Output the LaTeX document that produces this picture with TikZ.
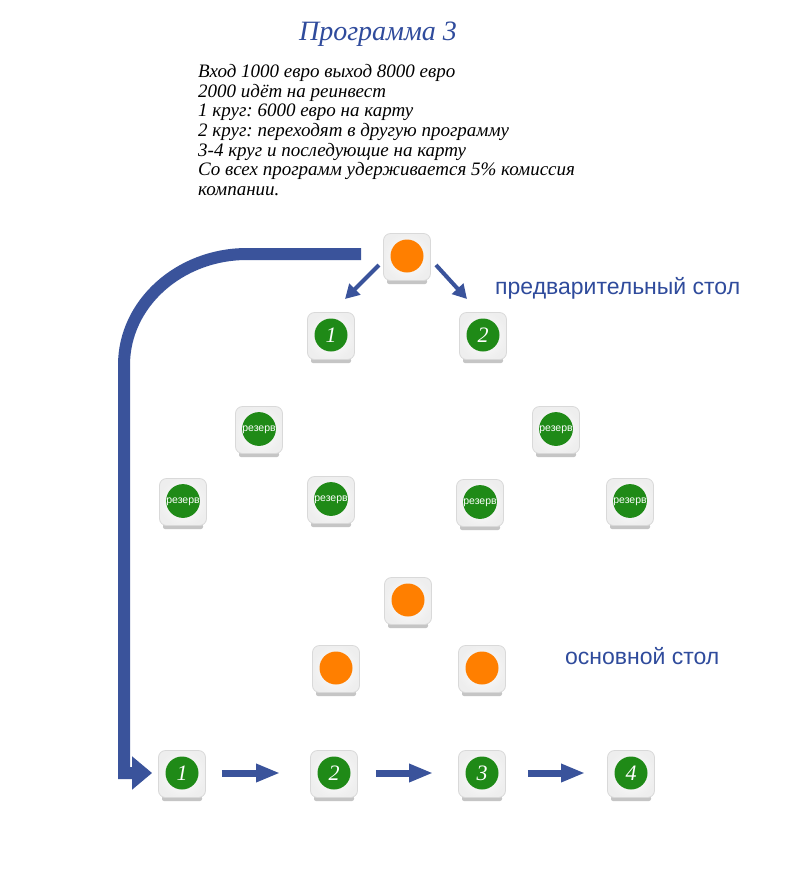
\documentclass[tikz,border=0pt]{standalone}
\usepackage{fontspec}
\setmainfont{Liberation Serif}
\newfontfamily\lsans{Liberation Sans}
\usetikzlibrary{arrows.meta,calc}
\frenchspacing
\definecolor{arrblue}{HTML}{3A539B}
\definecolor{txtblue}{HTML}{2F4B9C}
\definecolor{dgreen}{HTML}{1F8A17}
\definecolor{dorange}{HTML}{FF7F00}
\tikzset{
  tilebox/.style={draw=gray!30, line width=0.8pt, rounded corners=7pt, minimum width=47pt, minimum height=47pt,
    inner color=white, outer color=gray!13, inner sep=0pt},
  disc/.style={circle, fill=#1, minimum size=33pt, inner sep=0pt, text=white},
  numtxt/.style={font=\itshape\fontsize{22}{22}\selectfont},
  rezerv/.style={font=\lsans\fontsize{10.5}{10.5}\selectfont, text height=5.6pt, text depth=0pt},
  smallarr/.style={draw=arrblue, line width=4pt, -{Triangle[length=14pt,width=15pt]}},
  botarr/.style={draw=arrblue, line width=7pt, -{Triangle[length=24pt,width=17pt]}},
  bigarr/.style={draw=arrblue, line width=12pt, miter limit=10, -{Triangle[length=20pt,width=32pt]}},
}
\newcommand\mytile[5]{%
  \fill[gray!75, opacity=0.6, rounded corners=2pt] ($(#2)+(-20,22)$) rectangle ($(#2)+(20,27)$);
  \node[tilebox] (#1) at (#2) {};
  \node[disc=#3, #4] (#1c) at ($(#1)+(0,-1)$) {#5};
}
\begin{document}
\begin{tikzpicture}[x=1pt,y=-1pt]
\useasboundingbox (0,0) rectangle (800,887);
\fill[white] (0,0) rectangle (800,887);
% title and text
\node[font=\itshape\fontsize{28}{28}\selectfont, text=txtblue, anchor=base] (title) at (378,40) {Программа 3};
\node[font=\itshape\fontsize{19}{19.7}\selectfont, anchor=north west, align=left, inner sep=0pt] (desc) at (198,64) {Вход 1000 евро выход 8000 евро\\
2000 идёт на реинвест\\
1 круг: 6000 евро на карту\\
2 круг: переходят в другую программу\\
3-4 круг и последующие на карту\\
Со всех программ удерживается 5\% комиссия\\
компании.};
\node[font=\lsans\fontsize{23}{23}\selectfont, text=txtblue, anchor=base west, inner sep=0pt] (lab1) at (495,294) {предварительный стол};
\node[font=\lsans\fontsize{23}{23}\selectfont, text=txtblue, anchor=base west, inner sep=0pt] (lab2) at (565,664) {основной стол};
% tiles
\mytile{top}{407,257}{dorange}{}{}
\mytile{t1}{331,336}{dgreen}{numtxt}{1}
\mytile{t2}{483,336}{dgreen}{numtxt}{2}
\mytile{r1}{259,430}{dgreen}{rezerv}{резерв}
\mytile{r2}{556,430}{dgreen}{rezerv}{резерв}
\mytile{r3}{183,502}{dgreen}{rezerv}{резерв}
\mytile{r4}{331,500}{dgreen}{rezerv}{резерв}
\mytile{r5}{480,503}{dgreen}{rezerv}{резерв}
\mytile{r6}{630,502}{dgreen}{rezerv}{резерв}
\mytile{o1}{408,601}{dorange}{}{}
\mytile{o2}{336,669}{dorange}{}{}
\mytile{o3}{482,669}{dorange}{}{}
\mytile{b1}{182,774}{dgreen}{numtxt}{1}
\mytile{b2}{334,774}{dgreen}{numtxt}{2}
\mytile{b3}{482,774}{dgreen}{numtxt}{3}
\mytile{b4}{631,774}{dgreen}{numtxt}{4}
% arrows
\coordinate (a1s) at (379,265); \coordinate (a1e) at (345,299);
\coordinate (a2s) at (436,265); \coordinate (a2e) at (467,299);
\draw[smallarr] (a1s) -- (a1e);
\draw[smallarr] (a2s) -- (a2e);
\draw[botarr] ($(b1.east)+(16,-1)$) -- ($(b2.west)+(-30,-1)$);
\draw[botarr] ($(b2.east)+(18,-1)$) -- ($(b3.west)+(-25,-1)$);
\draw[botarr] ($(b3.east)+(22,-1)$) -- ($(b4.west)+(-22,-1)$);
\coordinate (bs) at (361,254);
\draw[bigarr] (bs) -- (247,254) .. controls (179,254) and (124,304) .. (124,365) -- (124,773) -- ($(b1.west)+(-6,-1)$);
\end{tikzpicture}
\end{document}
